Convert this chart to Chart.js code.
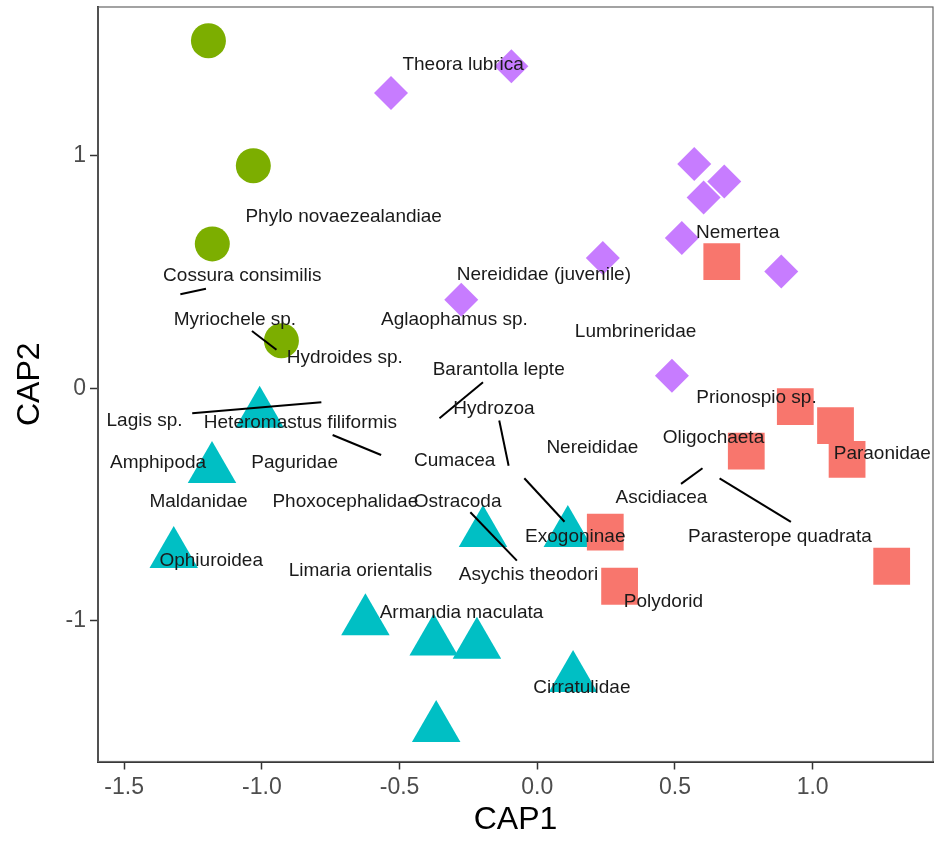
<!DOCTYPE html>
<html>
<head>
<meta charset="utf-8">
<script src="https://cdn.jsdelivr.net/npm/chart.js@4.4.0/dist/chart.umd.min.js"></script>
<style>
  html, body { margin: 0; padding: 0; background: #fff; }
  canvas { display: block; }
</style>
</head>
<body>
<canvas id="cap" width="935" height="845"></canvas>
<script>
// site scores, one pair of arrays per group
const circleX = [-1.194, -1.031, -1.180, -0.929];
const circleY = [1.493, 0.956, 0.620, 0.204];
const diamondX = [-0.531, -0.094, 0.238, -0.276, 0.570, 0.679, 0.604, 0.525, 0.886, 0.489];
const diamondY = [1.268, 1.383, 0.559, 0.380, 0.963, 0.888, 0.819, 0.645, 0.501, 0.054];
const squareX = [0.670, 0.937, 1.083, 1.125, 0.759, 1.287, 0.299, 0.247];
const squareY = [0.544, -0.079, -0.161, -0.306, -0.270, -0.765, -0.851, -0.618];
const triangleX = [-1.008, -1.181, -1.320, -0.624, -0.376, -0.219, -0.197, 0.111, 0.130, -0.367];
const triangleY = [-0.110, -0.347, -0.712, -1.001, -1.088, -1.102, -0.622, -0.622, -1.245, -1.460];

// species labels (repelled positions)
const labelText = ['Theora lubrica', 'Phylo novaezealandiae', 'Cossura consimilis', 'Myriochele sp.',
  'Hydroides sp.', 'Nereididae (juvenile)', 'Aglaophamus sp.', 'Lumbrineridae', 'Nemertea',
  'Barantolla lepte', 'Prionospio sp.', 'Oligochaeta', 'Paraonidae', 'Nereididae', 'Ascidiacea',
  'Parasterope quadrata', 'Polydorid', 'Cirratulidae', 'Hydrozoa', 'Cumacea', 'Ostracoda',
  'Exogoninae', 'Asychis theodori', 'Armandia maculata', 'Limaria orientalis',
  'Heteromastus filiformis', 'Lagis sp.', 'Amphipoda', 'Paguridae', 'Maldanidae',
  'Phoxocephalidae', 'Ophiuroidea'];
const labelX = [-0.269, -0.703, -1.071, -1.098, -0.699, 0.024, -0.301, 0.357, 0.728,
  -0.140, 0.796, 0.640, 1.253, 0.200, 0.451, 0.881, 0.458, 0.162, -0.157, -0.300, -0.289,
  0.138, -0.032, -0.275, -0.642, -0.860, -1.426, -1.377, -0.881, -1.230, -0.697, -1.184];
const labelY = [1.390, 0.738, 0.483, 0.294, 0.129, 0.487, 0.294, 0.243, 0.666,
  0.079, -0.043, -0.215, -0.282, -0.255, -0.470, -0.638, -0.917, -1.286, -0.090, -0.313, -0.488,
  -0.638, -0.803, -0.967, -0.784, -0.148, -0.141, -0.322, -0.322, -0.488, -0.488, -0.741];

// leader segments
const segX0 = [-1.296, -1.036, -1.253, -0.743, -0.197, -0.138, -0.047, -0.243, 0.522, 0.662];
const segY0 = [0.404, 0.246, -0.108, -0.201, 0.026, -0.139, -0.387, -0.533, -0.411, -0.387];
const segX1 = [-1.203, -0.947, -0.784, -0.567, -0.355, -0.104, 0.099, -0.074, 0.600, 0.921];
const segY1 = [0.427, 0.165, -0.060, -0.287, -0.129, -0.333, -0.574, -0.741, -0.344, -0.574];

const xTicks = [-1.5, -1.0, -0.5, 0.0, 0.5, 1.0];
const yTicks = [-1, 0, 1];

const family = '"Liberation Sans", Arial, sans-serif';

function toPoints(xs, ys) {
    return xs.map((v, i) => ({ x: v, y: ys[i] }));
}

// keep chart area fixed, no extra room for overhanging tick labels
function noPad(s) {
    s.paddingTop = 0;
    s.paddingBottom = 0;
    s.paddingLeft = 0;
    s.paddingRight = 0;
}

const labelPlugin = {
    id: 'speciesLabels',
    afterDatasetsDraw(chart) {
        const { ctx, scales: { x, y } } = chart;
        ctx.save();
        ctx.strokeStyle = '#000';
        ctx.lineWidth = 2;
        for (let i = 0; i < segX0.length; i++) {
            ctx.beginPath();
            ctx.moveTo(x.getPixelForValue(segX0[i]), y.getPixelForValue(segY0[i]));
            ctx.lineTo(x.getPixelForValue(segX1[i]), y.getPixelForValue(segY1[i]));
            ctx.stroke();
        }
        ctx.font = '19px ' + family;
        ctx.fillStyle = '#1a1a1a';
        ctx.textAlign = 'center';
        ctx.textBaseline = 'middle';
        labelText.forEach((t, i) => {
            ctx.fillText(t, x.getPixelForValue(labelX[i]), y.getPixelForValue(labelY[i]));
        });
        ctx.restore();
    },
    afterDraw(chart) {
        // panel border
        const { ctx, chartArea: a } = chart;
        ctx.save();
        ctx.strokeStyle = '#666';
        ctx.lineWidth = 1.2;
        ctx.strokeRect(a.left, a.top, a.right - a.left, a.bottom - a.top);
        ctx.restore();
    }
};

new Chart(document.getElementById('cap').getContext('2d'), {
    type: 'scatter',
    data: {
        datasets: [
            { data: toPoints(circleX, circleY), pointStyle: 'circle', pointRadius: 17.5, backgroundColor: '#7CAE00' },
            { data: toPoints(diamondX, diamondY), pointStyle: 'rectRot', pointRadius: 17, backgroundColor: '#C77CFF' },
            { data: toPoints(squareX, squareY), pointStyle: 'rect', pointRadius: 26, backgroundColor: '#F8766D' },
            { data: toPoints(triangleX, triangleY), pointStyle: 'triangle', pointRadius: 28, backgroundColor: '#00BFC4' }
        ].map(d => Object.assign(d, { borderWidth: 0, pointHoverRadius: d.pointRadius, clip: false }))
    },
    options: {
        responsive: false,
        animation: false,
        events: [],
        layout: { autoPadding: false, padding: { top: 7, right: 2, left: 0, bottom: 0 } },
        plugins: { legend: { display: false }, tooltip: { enabled: false } },
        scales: {
            x: {
                type: 'linear',
                min: -1.595,
                max: 1.437,
                afterBuildTicks: s => { s.ticks = xTicks.map(v => ({ value: v })); },
                afterFit: s => { s.height = 83.5; noPad(s); },
                ticks: {
                    callback: v => v.toFixed(1),
                    color: '#4d4d4d',
                    font: { size: 23, family },
                    padding: 4,
                    maxRotation: 0,
                    autoSkip: false
                },
                grid: { drawOnChartArea: false, drawTicks: true, tickLength: 8, tickWidth: 1.5, color: '#333' },
                border: { display: true, color: '#333', width: 2 },
                title: { display: true, text: 'CAP1', color: '#000', font: { size: 32, family }, padding: { top: 0, bottom: 6 } }
            },
            y: {
                type: 'linear',
                min: -1.604,
                max: 1.638,
                afterBuildTicks: s => { s.ticks = yTicks.map(v => ({ value: v })); },
                afterFit: s => { s.width = 98; noPad(s); },
                ticks: {
                    callback: v => String(v),
                    color: '#4d4d4d',
                    font: { size: 23, family },
                    padding: 4,
                    autoSkip: false
                },
                grid: { drawOnChartArea: false, drawTicks: true, tickLength: 8, tickWidth: 1.5, color: '#333' },
                border: { display: true, color: '#333', width: 2 },
                title: { display: true, text: 'CAP2', color: '#000', font: { size: 32, family }, padding: { top: 11, bottom: 0 } }
            }
        }
    },
    plugins: [labelPlugin]
});
</script>
</body>
</html>
